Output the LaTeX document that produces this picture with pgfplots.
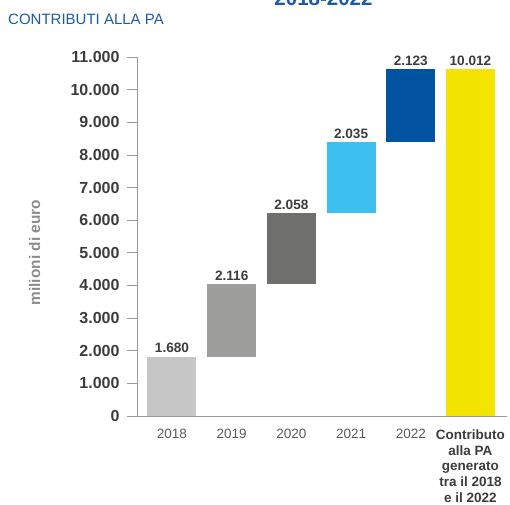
\documentclass[border=0pt]{standalone}
\usepackage{fontspec}
\setmainfont{Liberation Sans}
\usepackage{pgfplots}
\pgfplotsset{compat=1.18}
\definecolor{c18}{HTML}{C6C6C6}
\definecolor{c19}{HTML}{9D9D9C}
\definecolor{c20}{HTML}{6F6F6E}
\definecolor{c21}{HTML}{3DBFF0}
\definecolor{c22}{HTML}{0153A0}
\definecolor{ctot}{HTML}{F4E500}
\definecolor{titleblue}{HTML}{1C5BA7}
\definecolor{axisgray}{HTML}{9A9A9A}
\definecolor{labeldark}{HTML}{3C3C3B}
\definecolor{yeargray}{HTML}{5A5A5A}
\definecolor{ylabgray}{HTML}{8C8C8C}
\begin{document}
\begin{tikzpicture}
\useasboundingbox (0pt,0pt) rectangle (510pt,-504pt);
\node[anchor=base, font=\bfseries\fontsize{20.5}{20.5}\selectfont, text=titleblue, inner sep=0] at (323.5pt,-5pt) {2018-2022};
\node[anchor=base west, font=\fontsize{15}{15}\selectfont, text=titleblue, inner sep=0] at (8pt,-24pt) {CONTRIBUTI ALLA PA};
\begin{axis}[
  at={(137pt,-416pt)}, anchor=south west, scale only axis,
  width=370pt, height=359pt,
  xmin=-0.586, xmax=5.612, ymin=0, ymax=11000,
  ybar stacked, bar width=49pt,
  axis lines=left,
  axis line style={-, draw=axisgray, line width=0.8pt},
  ytick={0,1000,...,11000},
  xtick={0,1,2,3,4,5},
  xticklabels={2018,2019,2020,2021,2022,{\textbf{\color{labeldark}Contributo}\\\textbf{\color{labeldark}alla PA}\\\textbf{\color{labeldark}generato}\\\textbf{\color{labeldark}tra il 2018}\\\textbf{\color{labeldark}e il 2022}}},
  major tick length=10pt, tick align=outside,
  ytick style={draw=axisgray, line width=0.8pt},
  xtick style={draw=none},
  scaled y ticks=false,
  /pgf/number format/1000 sep={.},
  /pgf/number format/assume math mode=true,
  yticklabel style={font=\bfseries\fontsize{16}{16}\selectfont, text=labeldark, xshift=-4pt},
  xticklabel style={font=\fontsize{13.5}{15.8}\selectfont, text=yeargray, align=center},
  ylabel={milioni di euro},
  every axis y label/.style={at={(axis description cs:-0.277,0.455)}, rotate=90, anchor=center, font=\bfseries\fontsize{15.4}{15.4}\selectfont, text=ylabgray},
  clip=false,
]
% invisible bases
\addplot[draw=none, fill=none] coordinates {(0,0) (1,1800) (2,4040) (3,6220) (4,8390) (5,0)};
\addplot[draw=none, fill=c18] coordinates {(0,1820) (1,0) (2,0) (3,0) (4,0) (5,0)};
\addplot[draw=none, fill=c19] coordinates {(0,0) (1,2240) (2,0) (3,0) (4,0) (5,0)};
\addplot[draw=none, fill=c20] coordinates {(0,0) (1,0) (2,2190) (3,0) (4,0) (5,0)};
\addplot[draw=none, fill=c21] coordinates {(0,0) (1,0) (2,0) (3,2180) (4,0) (5,0)};
\addplot[draw=none, fill=c22] coordinates {(0,0) (1,0) (2,0) (3,0) (4,2250) (5,0)};
\addplot[draw=none, fill=ctot] coordinates {(0,0) (1,0) (2,0) (3,0) (4,0) (5,10640)};
\end{axis}
\begin{axis}[
  at={(137pt,-416pt)}, anchor=south west, scale only axis,
  width=370pt, height=359pt,
  xmin=-0.586, xmax=5.612, ymin=0, ymax=11000,
  hide axis, clip=false,
  ybar, bar width=49pt,
  nodes near coords, point meta=explicit symbolic,
  every node near coord/.append style={font=\bfseries\fontsize{13.6}{13.6}\selectfont, text=labeldark},
]
\addplot[draw=none, fill=none] coordinates {(0,1820)[1.680] (1,4040)[2.116] (2,6230)[2.058] (3,8400)[2.035] (4,10640)[2.123] (5,10640)[10.012]};
\end{axis}
\end{tikzpicture}
\end{document}
